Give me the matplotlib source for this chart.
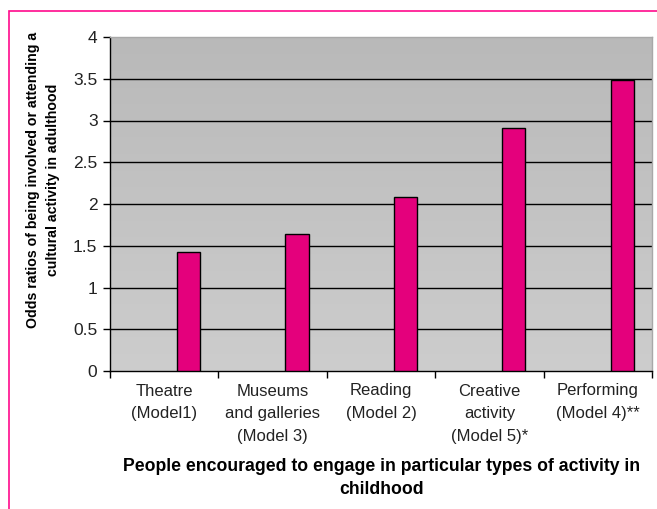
import matplotlib
matplotlib.use('Agg')
import matplotlib.pyplot as plt
import numpy as np
from matplotlib.patches import Rectangle

categories = ['Theatre\n(Model1)', 'Museums\nand galleries\n(Model 3)', 'Reading\n(Model 2)',
              'Creative\nactivity\n(Model 5)*', 'Performing\n(Model 4)**']
odds = [1.43, 1.64, 2.08, 2.91, 3.49]
yticks = [0, 0.5, 1, 1.5, 2, 2.5, 3, 3.5, 4]
ylabels = ['0', '0.5', '1', '1.5', '2', '2.5', '3', '3.5', '4']

plt.rcParams['font.family'] = 'Liberation Sans'

W, H = 657, 509
fig = plt.figure(figsize=(W / 100, H / 100), dpi=100)
ax = fig.add_axes([110 / W, 1 - 371 / H, 542 / W, 334 / H])

# gray gradient background (darker at top)
grad = np.linspace(0, 1, 256).reshape(-1, 1)
ax.imshow(grad, extent=[-0.5, 4.5, 0, 4], aspect='auto', origin='upper',
          cmap=matplotlib.colors.LinearSegmentedColormap.from_list('g', ['#b9b9b9', '#cdcdcd']),
          zorder=0)

x = np.arange(len(categories))
ax.bar(x + 0.225, odds, width=0.215, color='#e4007c', edgecolor='black', linewidth=1.0, zorder=3)

for v in yticks[1:-1]:
    ax.axhline(v, color='black', linewidth=1.0, zorder=2)

ax.set_xlim(-0.5, 4.5)
ax.set_ylim(0, 4)
ax.set_yticks(yticks)
ax.set_yticklabels(ylabels, fontsize=12.5, color='#222222')
ax.set_xticks(np.arange(-0.5, 5, 1))
ax.set_xticklabels([])
ax.set_xticks(x, minor=True)
ax.set_xticklabels(categories, minor=True, fontsize=12, linespacing=1.65, va='top', color='#222222')
ax.tick_params(axis='x', which='minor', length=0, pad=9)
ax.tick_params(axis='both', which='major', direction='out', length=5, width=1, color='black')
ax.tick_params(axis='y', pad=4)

for s in ['top', 'right']:
    ax.spines[s].set_color('#a8a8a8')
    ax.spines[s].set_linewidth(1)
ax.spines['left'].set_linewidth(1)
ax.spines['bottom'].set_linewidth(1)

fig.text(382 / W, 1 - 478 / H,
         'People encouraged to engage in particular types of activity in\nchildhood',
         ha='center', va='center', fontsize=12.7, fontweight='bold', linespacing=1.4)
fig.text(43 / W, 1 - 180 / H,
         'Odds ratios of being involved or attending a\ncultural activity in adulthood',
         ha='center', va='center', rotation=90, fontsize=10.2, fontweight='bold', linespacing=1.6)

# outer magenta frame
fig.patches.append(Rectangle((8.5 / W, -0.1), 1.2, 1 - 10.5 / H + 0.1, transform=fig.transFigure,
                             fill=False, edgecolor='#ff0a8c', linewidth=1.2, zorder=10))

fig.savefig('out.png', dpi=100)
